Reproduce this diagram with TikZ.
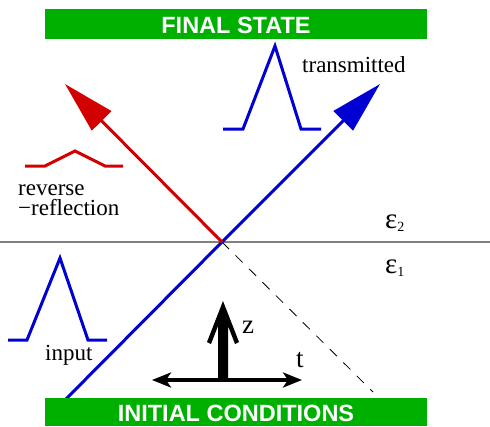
\documentclass[tikz,border=0pt]{standalone}
\usepackage{fontspec}
\setmainfont{Liberation Serif}
\newfontfamily\barfont{Liberation Sans}
\usetikzlibrary{arrows.meta}
\definecolor{bargreen}{RGB}{0,176,0}
\definecolor{wblue}{RGB}{0,0,210}
\definecolor{wred}{RGB}{210,0,0}
\begin{document}
\begin{tikzpicture}[x=1pt,y=-1pt,
  bar/.style={fill=bargreen,draw=none},
  bartext/.style={text=white,font=\barfont\bfseries\fontsize{23.5}{23.5}\selectfont,inner sep=0pt},
  lbl/.style={font=\fontsize{23}{20}\selectfont,inner sep=0pt},
  pulseb/.style={draw=wblue,line width=3pt,line join=miter},
  pulser/.style={draw=wred,line width=3pt,line join=miter},
  bigarrow/.style={line width=3pt,-{Triangle[length=52pt,width=27pt]}},
  eps/.style={inner sep=0pt,anchor=base west},
]
\useasboundingbox (0,0) rectangle (490,426);
% bars
\fill[bar] (45,9) rectangle (427,39);
\node[bartext,anchor=base] (fs) at (236,33) {FINAL STATE};
% interface line
\coordinate (L) at (0,242);
\coordinate (R) at (490,242);
\draw[gray,line width=1.6pt] (L) -- (R);
% central point
\coordinate (O) at (222,242);
\coordinate (B) at (65,400);
\coordinate (TB) at (380,84);
\coordinate (TR) at (65,84);
\coordinate (D) at (373,392);
\draw[dash pattern=on 10pt off 9pt,line width=0.8pt] (O) -- (D);
\draw[wblue,bigarrow] (B) -- (O) -- (TB);
\draw[wred,bigarrow] (O) -- (TR);
\fill[bar] (45,398) rectangle (427,426);
\node[bartext,anchor=base] (ic) at (236,421) {INITIAL CONDITIONS};
% pulses
\draw[pulseb] (8,340) -- (27,340) -- (60,258) -- (88,340) -- (107,340);
\draw[pulseb] (223,129) -- (243,129) -- (275,46) -- (301,129) -- (321,129);
\draw[pulser] (25,166) -- (45,166) -- (75,151) -- (105,166) -- (123,166);
% labels
\node[lbl,anchor=base west] (tr) at (302,72) {transmitted};
\node[lbl,anchor=base west,align=left] (rv) at (18,215) {reverse\\\char"2212 reflection};
\node[lbl,anchor=base west] (in) at (45,360) {input};
\node[eps] (e2) at (385,228) {{\fontsize{29}{29}\selectfont ε}\raisebox{-3pt}{\fontsize{14}{14}\selectfont 2}};
\node[eps] (e1) at (385,273) {{\fontsize{29}{29}\selectfont ε}\raisebox{-3pt}{\fontsize{14}{14}\selectfont 1}};
% axes
\coordinate (AL) at (152,380);
\coordinate (AR) at (302,380);
\draw[line width=3.5pt,{Stealth[length=19pt,width=15pt,inset=5pt]}-{Stealth[length=19pt,width=15pt,inset=5pt]}] (AL) -- (AR);
\fill (223,301) -- (239,342) -- (235,344) -- (228,326) -- (228,381) -- (218,381) -- (218,326) -- (211,344) -- (207,342) -- cycle;
\node[font=\fontsize{27}{27}\selectfont,inner sep=0pt,anchor=base west] (z) at (242,333) {z};
\node[font=\fontsize{27}{27}\selectfont,inner sep=0pt,anchor=base west] (t) at (296,367) {t};
\end{tikzpicture}
\end{document}
